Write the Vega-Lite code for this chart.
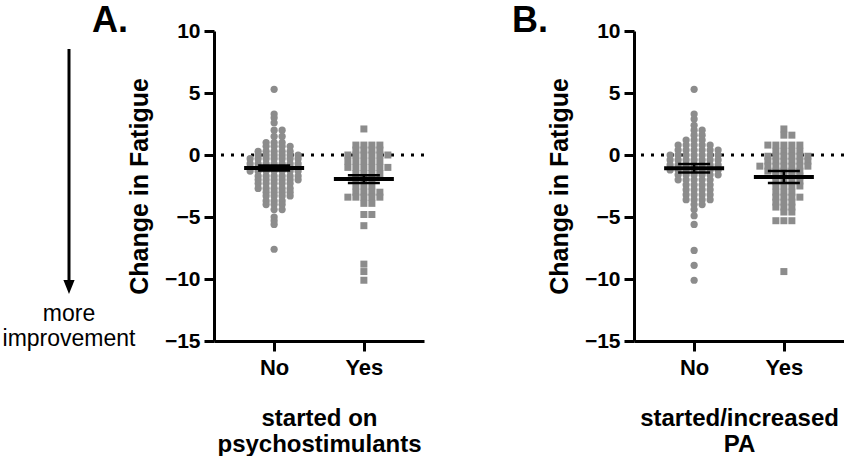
{
"$schema":"https://vega.github.io/schema/vega-lite/v6.json",
"padding":{"left":2,"top":3,"right":0,"bottom":0},
"datasets":{
"pts":[
{"p":"A","g":"No","v":5.3},{"p":"A","g":"No","v":3.3},{"p":"A","g":"No","v":3.0},{"p":"A","g":"No","v":2.6},
{"p":"A","g":"No","v":2.0},{"p":"A","g":"No","v":2.0},
{"p":"A","g":"No","v":1.5},{"p":"A","g":"No","v":1.5},
{"p":"A","g":"No","v":1.0},{"p":"A","g":"No","v":1.0},{"p":"A","g":"No","v":1.0},
{"p":"A","g":"No","v":0.7},{"p":"A","g":"No","v":0.7},{"p":"A","g":"No","v":0.7},{"p":"A","g":"No","v":0.7},
{"p":"A","g":"No","v":0.3},{"p":"A","g":"No","v":0.3},{"p":"A","g":"No","v":0.3},{"p":"A","g":"No","v":0.3},{"p":"A","g":"No","v":0.3},
{"p":"A","g":"No","v":0.0},{"p":"A","g":"No","v":0.0},{"p":"A","g":"No","v":0.0},{"p":"A","g":"No","v":0.0},{"p":"A","g":"No","v":0.0},{"p":"A","g":"No","v":0.0},
{"p":"A","g":"No","v":-0.3},{"p":"A","g":"No","v":-0.3},{"p":"A","g":"No","v":-0.3},{"p":"A","g":"No","v":-0.3},{"p":"A","g":"No","v":-0.3},{"p":"A","g":"No","v":-0.3},{"p":"A","g":"No","v":-0.3},
{"p":"A","g":"No","v":-0.7},{"p":"A","g":"No","v":-0.7},{"p":"A","g":"No","v":-0.7},{"p":"A","g":"No","v":-0.7},{"p":"A","g":"No","v":-0.7},{"p":"A","g":"No","v":-0.7},{"p":"A","g":"No","v":-0.7},
{"p":"A","g":"No","v":-1.0},{"p":"A","g":"No","v":-1.0},{"p":"A","g":"No","v":-1.0},{"p":"A","g":"No","v":-1.0},{"p":"A","g":"No","v":-1.0},{"p":"A","g":"No","v":-1.0},{"p":"A","g":"No","v":-1.0},
{"p":"A","g":"No","v":-1.15},{"p":"A","g":"No","v":-1.15},
{"p":"A","g":"No","v":-1.3},{"p":"A","g":"No","v":-1.3},{"p":"A","g":"No","v":-1.3},{"p":"A","g":"No","v":-1.3},{"p":"A","g":"No","v":-1.3},{"p":"A","g":"No","v":-1.3},{"p":"A","g":"No","v":-1.3},
{"p":"A","g":"No","v":-1.7},{"p":"A","g":"No","v":-1.7},{"p":"A","g":"No","v":-1.7},{"p":"A","g":"No","v":-1.7},{"p":"A","g":"No","v":-1.7},{"p":"A","g":"No","v":-1.7},
{"p":"A","g":"No","v":-2.0},{"p":"A","g":"No","v":-2.0},{"p":"A","g":"No","v":-2.0},{"p":"A","g":"No","v":-2.0},{"p":"A","g":"No","v":-2.0},{"p":"A","g":"No","v":-2.0},
{"p":"A","g":"No","v":-2.3},{"p":"A","g":"No","v":-2.3},{"p":"A","g":"No","v":-2.3},{"p":"A","g":"No","v":-2.3},{"p":"A","g":"No","v":-2.3},
{"p":"A","g":"No","v":-2.7},{"p":"A","g":"No","v":-2.7},{"p":"A","g":"No","v":-2.7},{"p":"A","g":"No","v":-2.7},{"p":"A","g":"No","v":-2.7},
{"p":"A","g":"No","v":-3.0},{"p":"A","g":"No","v":-3.0},{"p":"A","g":"No","v":-3.0},{"p":"A","g":"No","v":-3.0},
{"p":"A","g":"No","v":-3.3},{"p":"A","g":"No","v":-3.3},{"p":"A","g":"No","v":-3.3},{"p":"A","g":"No","v":-3.3},
{"p":"A","g":"No","v":-3.7},{"p":"A","g":"No","v":-3.7},{"p":"A","g":"No","v":-3.7},
{"p":"A","g":"No","v":-4.0},{"p":"A","g":"No","v":-4.0},{"p":"A","g":"No","v":-4.0},
{"p":"A","g":"No","v":-4.4},{"p":"A","g":"No","v":-4.4},
{"p":"A","g":"No","v":-5.0},{"p":"A","g":"No","v":-5.3},{"p":"A","g":"No","v":-5.6},{"p":"A","g":"No","v":-7.6},
{"p":"A","g":"Yes","v":2.1},
{"p":"A","g":"Yes","v":0.8},{"p":"A","g":"Yes","v":0.8},{"p":"A","g":"Yes","v":0.8},{"p":"A","g":"Yes","v":0.8},
{"p":"A","g":"Yes","v":0.4},{"p":"A","g":"Yes","v":0.4},{"p":"A","g":"Yes","v":0.4},{"p":"A","g":"Yes","v":0.4},
{"p":"A","g":"Yes","v":0.0},{"p":"A","g":"Yes","v":0.0},{"p":"A","g":"Yes","v":0.0},{"p":"A","g":"Yes","v":0.0},{"p":"A","g":"Yes","v":0.0},{"p":"A","g":"Yes","v":0.0},
{"p":"A","g":"Yes","v":-0.5},{"p":"A","g":"Yes","v":-0.5},{"p":"A","g":"Yes","v":-0.5},{"p":"A","g":"Yes","v":-0.5},{"p":"A","g":"Yes","v":-0.5},
{"p":"A","g":"Yes","v":-1.0},{"p":"A","g":"Yes","v":-1.0},{"p":"A","g":"Yes","v":-1.0},{"p":"A","g":"Yes","v":-1.0},{"p":"A","g":"Yes","v":-1.0},{"p":"A","g":"Yes","v":-1.0},
{"p":"A","g":"Yes","v":-1.5},{"p":"A","g":"Yes","v":-1.5},{"p":"A","g":"Yes","v":-1.5},{"p":"A","g":"Yes","v":-1.5},
{"p":"A","g":"Yes","v":-2.0},{"p":"A","g":"Yes","v":-2.0},{"p":"A","g":"Yes","v":-2.0},
{"p":"A","g":"Yes","v":-2.5},{"p":"A","g":"Yes","v":-2.5},{"p":"A","g":"Yes","v":-2.5},
{"p":"A","g":"Yes","v":-3.0},{"p":"A","g":"Yes","v":-3.0},{"p":"A","g":"Yes","v":-3.0},{"p":"A","g":"Yes","v":-3.0},
{"p":"A","g":"Yes","v":-3.4},{"p":"A","g":"Yes","v":-3.4},{"p":"A","g":"Yes","v":-3.4},{"p":"A","g":"Yes","v":-3.4},{"p":"A","g":"Yes","v":-3.4},
{"p":"A","g":"Yes","v":-3.9},{"p":"A","g":"Yes","v":-3.9},
{"p":"A","g":"Yes","v":-4.8},{"p":"A","g":"Yes","v":-4.8},
{"p":"A","g":"Yes","v":-5.7},{"p":"A","g":"Yes","v":-8.8},{"p":"A","g":"Yes","v":-9.4},{"p":"A","g":"Yes","v":-10.1},
{"p":"B","g":"No","v":5.3},{"p":"B","g":"No","v":3.3},{"p":"B","g":"No","v":2.9},{"p":"B","g":"No","v":2.4},
{"p":"B","g":"No","v":2.0},{"p":"B","g":"No","v":2.0},
{"p":"B","g":"No","v":1.6},{"p":"B","g":"No","v":1.6},
{"p":"B","g":"No","v":1.2},{"p":"B","g":"No","v":1.2},{"p":"B","g":"No","v":1.2},
{"p":"B","g":"No","v":0.8},{"p":"B","g":"No","v":0.8},{"p":"B","g":"No","v":0.8},{"p":"B","g":"No","v":0.8},{"p":"B","g":"No","v":0.8},
{"p":"B","g":"No","v":0.4},{"p":"B","g":"No","v":0.4},{"p":"B","g":"No","v":0.4},{"p":"B","g":"No","v":0.4},{"p":"B","g":"No","v":0.4},{"p":"B","g":"No","v":0.4},
{"p":"B","g":"No","v":0.0},{"p":"B","g":"No","v":0.0},{"p":"B","g":"No","v":0.0},{"p":"B","g":"No","v":0.0},{"p":"B","g":"No","v":0.0},{"p":"B","g":"No","v":0.0},{"p":"B","g":"No","v":0.0},
{"p":"B","g":"No","v":-0.4},{"p":"B","g":"No","v":-0.4},{"p":"B","g":"No","v":-0.4},{"p":"B","g":"No","v":-0.4},{"p":"B","g":"No","v":-0.4},{"p":"B","g":"No","v":-0.4},{"p":"B","g":"No","v":-0.4},
{"p":"B","g":"No","v":-0.8},{"p":"B","g":"No","v":-0.8},{"p":"B","g":"No","v":-0.8},{"p":"B","g":"No","v":-0.8},{"p":"B","g":"No","v":-0.8},{"p":"B","g":"No","v":-0.8},{"p":"B","g":"No","v":-0.8},
{"p":"B","g":"No","v":-1.0},
{"p":"B","g":"No","v":-1.2},{"p":"B","g":"No","v":-1.2},{"p":"B","g":"No","v":-1.2},{"p":"B","g":"No","v":-1.2},{"p":"B","g":"No","v":-1.2},{"p":"B","g":"No","v":-1.2},{"p":"B","g":"No","v":-1.2},
{"p":"B","g":"No","v":-1.6},{"p":"B","g":"No","v":-1.6},{"p":"B","g":"No","v":-1.6},{"p":"B","g":"No","v":-1.6},{"p":"B","g":"No","v":-1.6},{"p":"B","g":"No","v":-1.6},
{"p":"B","g":"No","v":-2.0},{"p":"B","g":"No","v":-2.0},{"p":"B","g":"No","v":-2.0},{"p":"B","g":"No","v":-2.0},{"p":"B","g":"No","v":-2.0},
{"p":"B","g":"No","v":-2.4},{"p":"B","g":"No","v":-2.4},{"p":"B","g":"No","v":-2.4},{"p":"B","g":"No","v":-2.4},
{"p":"B","g":"No","v":-2.8},{"p":"B","g":"No","v":-2.8},{"p":"B","g":"No","v":-2.8},{"p":"B","g":"No","v":-2.8},
{"p":"B","g":"No","v":-3.2},{"p":"B","g":"No","v":-3.2},{"p":"B","g":"No","v":-3.2},{"p":"B","g":"No","v":-3.2},
{"p":"B","g":"No","v":-3.6},{"p":"B","g":"No","v":-3.6},{"p":"B","g":"No","v":-3.6},{"p":"B","g":"No","v":-3.6},
{"p":"B","g":"No","v":-4.0},{"p":"B","g":"No","v":-4.0},
{"p":"B","g":"No","v":-4.4},{"p":"B","g":"No","v":-4.9},{"p":"B","g":"No","v":-5.6},{"p":"B","g":"No","v":-7.7},{"p":"B","g":"No","v":-8.9},{"p":"B","g":"No","v":-10.1},
{"p":"B","g":"Yes","v":2.1},
{"p":"B","g":"Yes","v":1.6},{"p":"B","g":"Yes","v":1.6},
{"p":"B","g":"Yes","v":0.8},{"p":"B","g":"Yes","v":0.8},{"p":"B","g":"Yes","v":0.8},{"p":"B","g":"Yes","v":0.8},{"p":"B","g":"Yes","v":0.8},
{"p":"B","g":"Yes","v":0.3},{"p":"B","g":"Yes","v":0.3},{"p":"B","g":"Yes","v":0.3},{"p":"B","g":"Yes","v":0.3},
{"p":"B","g":"Yes","v":-0.1},{"p":"B","g":"Yes","v":-0.1},{"p":"B","g":"Yes","v":-0.1},{"p":"B","g":"Yes","v":-0.1},{"p":"B","g":"Yes","v":-0.1},{"p":"B","g":"Yes","v":-0.1},
{"p":"B","g":"Yes","v":-0.5},{"p":"B","g":"Yes","v":-0.5},{"p":"B","g":"Yes","v":-0.5},{"p":"B","g":"Yes","v":-0.5},{"p":"B","g":"Yes","v":-0.5},{"p":"B","g":"Yes","v":-0.5},
{"p":"B","g":"Yes","v":-0.9},{"p":"B","g":"Yes","v":-0.9},{"p":"B","g":"Yes","v":-0.9},{"p":"B","g":"Yes","v":-0.9},{"p":"B","g":"Yes","v":-0.9},{"p":"B","g":"Yes","v":-0.9},{"p":"B","g":"Yes","v":-0.9},
{"p":"B","g":"Yes","v":-1.3},{"p":"B","g":"Yes","v":-1.3},{"p":"B","g":"Yes","v":-1.3},{"p":"B","g":"Yes","v":-1.3},{"p":"B","g":"Yes","v":-1.3},
{"p":"B","g":"Yes","v":-1.7},{"p":"B","g":"Yes","v":-1.7},{"p":"B","g":"Yes","v":-1.7},{"p":"B","g":"Yes","v":-1.7},
{"p":"B","g":"Yes","v":-2.1},{"p":"B","g":"Yes","v":-2.1},{"p":"B","g":"Yes","v":-2.1},{"p":"B","g":"Yes","v":-2.1},
{"p":"B","g":"Yes","v":-2.5},{"p":"B","g":"Yes","v":-2.5},{"p":"B","g":"Yes","v":-2.5},{"p":"B","g":"Yes","v":-2.5},
{"p":"B","g":"Yes","v":-3.0},{"p":"B","g":"Yes","v":-3.0},{"p":"B","g":"Yes","v":-3.0},
{"p":"B","g":"Yes","v":-3.4},{"p":"B","g":"Yes","v":-3.4},{"p":"B","g":"Yes","v":-3.4},{"p":"B","g":"Yes","v":-3.4},
{"p":"B","g":"Yes","v":-3.8},{"p":"B","g":"Yes","v":-3.8},{"p":"B","g":"Yes","v":-3.8},
{"p":"B","g":"Yes","v":-4.2},{"p":"B","g":"Yes","v":-4.2},{"p":"B","g":"Yes","v":-4.2},
{"p":"B","g":"Yes","v":-4.6},{"p":"B","g":"Yes","v":-4.6},
{"p":"B","g":"Yes","v":-5.3},{"p":"B","g":"Yes","v":-5.3},{"p":"B","g":"Yes","v":-5.3},
{"p":"B","g":"Yes","v":-9.4}
],
"summary":[
{"p":"A","g":"No","mean":-1.05,"lo":-1.25,"hi":-0.85},
{"p":"A","g":"Yes","mean":-1.94,"lo":-2.25,"hi":-1.63},
{"p":"B","g":"No","mean":-1.07,"lo":-1.42,"hi":-0.72},
{"p":"B","g":"Yes","mean":-1.77,"lo":-2.25,"hi":-1.30}
]
},
"config":{
"font":"Liberation Sans",
"view":{"stroke":null},
"axis":{"grid":false,"domainColor":"black","domainWidth":3,"tickColor":"black","tickWidth":3,"tickSize":10,"labelColor":"black","labelFontWeight":"bold","titleColor":"black","titleFontWeight":"bold"}
},
"bounds":"flush",
"spacing":80,
"hconcat":[
{
"width":130,"height":310,
"data":{"values":[{}]},
"layer":[
{"mark":{"type":"rule","strokeWidth":3,"color":"black"},
 "encoding":{"x":{"datum":0.5,"type":"quantitative","scale":{"domain":[0,1]},"axis":null},
 "y":{"datum":8.55,"type":"quantitative","scale":{"domain":[-15,10],"nice":false,"zero":false},"axis":null},
 "y2":{"datum":-10.6}}},
{"mark":{"type":"point","shape":"M-0.8,-1L0.8,-1L0,1Z","filled":true,"color":"black","size":196,"opacity":1,"strokeWidth":0},
 "encoding":{"x":{"datum":0.5,"type":"quantitative","axis":null},"y":{"datum":-10.65,"type":"quantitative","axis":null}}},
{"mark":{"type":"text","text":"more","fontSize":23,"color":"black"},
 "encoding":{"x":{"datum":0.5,"type":"quantitative","axis":null},"y":{"datum":-12.8,"type":"quantitative","axis":null}}},
{"mark":{"type":"text","text":"improvement","fontSize":23,"color":"black"},
 "encoding":{"x":{"datum":0.5,"type":"quantitative","axis":null},"y":{"datum":-14.8,"type":"quantitative","axis":null}}}
]
},
{
"bounds":"flush",
"spacing":210,
"hconcat":[
{
"width":210,"height":310,
"title":{"text":"A.","anchor":"start","frame":"group","dx":-122,"fontSize":36,"fontWeight":"bold","color":"black","offset":-48,"baseline":"alphabetic"},
"layer":[
{"data":{"values":[{}]},
 "mark":{"type":"rule","strokeDash":[3,7],"strokeWidth":3,"color":"black"},
 "encoding":{"y":{"datum":0,"type":"quantitative"}}},
{"data":{"name":"pts"},
 "transform":[{"filter":"datum.p==='A'"},{"window":[{"op":"row_number","as":"rank"}],"groupby":["g","v"]}],
 "mark":{"type":"point","filled":true,"opacity":1,"color":"#8c8c8c","strokeWidth":0},
 "encoding":{
  "x":{"field":"g","type":"nominal","scale":{"type":"point","domain":["No","Yes"],"padding":0.67},
       "axis":{"labelAngle":0,"labelFontSize":22,"labelPadding":6,"title":["started on","psychostimulants"],"titleFontSize":24,"titleLineHeight":26,"titlePadding":28}},
  "xOffset":{"field":"rank","type":"ordinal","scale":{"type":"point","domain":[9,7,5,3,1,2,4,6,8],"range":[-36,36]}},
  "y":{"field":"v","type":"quantitative","scale":{"domain":[-15,10],"nice":false,"zero":false},
       "axis":{"values":[-15,-10,-5,0,5,10],"labelFontSize":21,"labelPadding":4,"title":"Change in Fatigue","titleFontSize":25,"titlePadding":12}},
  "shape":{"field":"g","type":"nominal","scale":{"domain":["No","Yes"],"range":["circle","square"]},"legend":null},
  "size":{"field":"g","type":"ordinal","scale":{"domain":["No","Yes"],"range":[52,49]},"legend":null}
 }},
{"data":{"name":"summary"},"transform":[{"filter":"datum.p==='A'"}],
 "mark":{"type":"rule","strokeWidth":2.5,"color":"black"},
 "encoding":{"x":{"field":"g","type":"nominal"},"y":{"field":"lo","type":"quantitative"},"y2":{"field":"hi"}}},
{"data":{"name":"summary"},"transform":[{"filter":"datum.p==='A'"}],
 "mark":{"type":"tick","orient":"horizontal","size":32,"thickness":2.5,"color":"black","opacity":1},
 "encoding":{"x":{"field":"g","type":"nominal"},"y":{"field":"lo","type":"quantitative"}}},
{"data":{"name":"summary"},"transform":[{"filter":"datum.p==='A'"}],
 "mark":{"type":"tick","orient":"horizontal","size":32,"thickness":2.5,"color":"black","opacity":1},
 "encoding":{"x":{"field":"g","type":"nominal"},"y":{"field":"hi","type":"quantitative"}}},
{"data":{"name":"summary"},"transform":[{"filter":"datum.p==='A'"}],
 "mark":{"type":"tick","orient":"horizontal","size":60,"thickness":4,"color":"black","opacity":1},
 "encoding":{"x":{"field":"g","type":"nominal"},"y":{"field":"mean","type":"quantitative"}}}
]
},
{
"width":210,"height":310,
"title":{"text":"B.","anchor":"start","frame":"group","dx":-122,"fontSize":36,"fontWeight":"bold","color":"black","offset":-48,"baseline":"alphabetic"},
"layer":[
{"data":{"values":[{}]},
 "mark":{"type":"rule","strokeDash":[3,7],"strokeWidth":3,"color":"black"},
 "encoding":{"y":{"datum":0,"type":"quantitative"}}},
{"data":{"name":"pts"},
 "transform":[{"filter":"datum.p==='B'"},{"window":[{"op":"row_number","as":"rank"}],"groupby":["g","v"]}],
 "mark":{"type":"point","filled":true,"opacity":1,"color":"#8c8c8c","strokeWidth":0},
 "encoding":{
  "x":{"field":"g","type":"nominal","scale":{"type":"point","domain":["No","Yes"],"padding":0.67},
       "axis":{"labelAngle":0,"labelFontSize":22,"labelPadding":6,"title":["started/increased","PA"],"titleFontSize":24,"titleLineHeight":26,"titlePadding":28}},
  "xOffset":{"field":"rank","type":"ordinal","scale":{"type":"point","domain":[9,7,5,3,1,2,4,6,8],"range":[-36,36]}},
  "y":{"field":"v","type":"quantitative","scale":{"domain":[-15,10],"nice":false,"zero":false},
       "axis":{"values":[-15,-10,-5,0,5,10],"labelFontSize":21,"labelPadding":4,"title":"Change in Fatigue","titleFontSize":25,"titlePadding":12}},
  "shape":{"field":"g","type":"nominal","scale":{"domain":["No","Yes"],"range":["circle","square"]},"legend":null},
  "size":{"field":"g","type":"ordinal","scale":{"domain":["No","Yes"],"range":[52,49]},"legend":null}
 }},
{"data":{"name":"summary"},"transform":[{"filter":"datum.p==='B'"}],
 "mark":{"type":"rule","strokeWidth":2.5,"color":"black"},
 "encoding":{"x":{"field":"g","type":"nominal"},"y":{"field":"lo","type":"quantitative"},"y2":{"field":"hi"}}},
{"data":{"name":"summary"},"transform":[{"filter":"datum.p==='B'"}],
 "mark":{"type":"tick","orient":"horizontal","size":32,"thickness":2.5,"color":"black","opacity":1},
 "encoding":{"x":{"field":"g","type":"nominal"},"y":{"field":"lo","type":"quantitative"}}},
{"data":{"name":"summary"},"transform":[{"filter":"datum.p==='B'"}],
 "mark":{"type":"tick","orient":"horizontal","size":32,"thickness":2.5,"color":"black","opacity":1},
 "encoding":{"x":{"field":"g","type":"nominal"},"y":{"field":"hi","type":"quantitative"}}},
{"data":{"name":"summary"},"transform":[{"filter":"datum.p==='B'"}],
 "mark":{"type":"tick","orient":"horizontal","size":60,"thickness":4,"color":"black","opacity":1},
 "encoding":{"x":{"field":"g","type":"nominal"},"y":{"field":"mean","type":"quantitative"}}}
]
}
]
}
]
}
